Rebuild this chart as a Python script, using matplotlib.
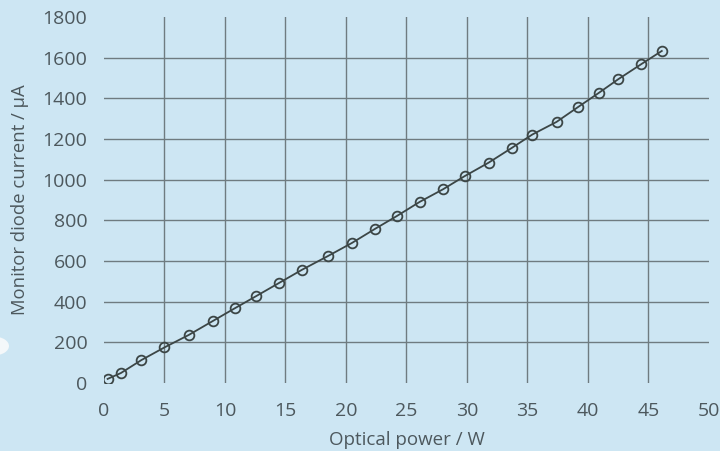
import matplotlib
matplotlib.use("Agg")
import matplotlib.pyplot as plt
from matplotlib.patches import Circle

plt.rcParams['font.family'] = ['Open Sans', 'DejaVu Sans']

optical_power = [0.3, 1.4, 3.1, 5.0, 7.0, 9.0, 10.8, 12.6, 14.5, 16.4, 18.5, 20.5,
                 22.4, 24.2, 26.1, 28.0, 29.8, 31.8, 33.7, 35.4, 37.4, 39.2, 40.9,
                 42.5, 44.4, 46.1]
diode_current = [20, 49, 113, 175, 236, 305, 367, 428, 493, 558, 624, 689,
                 758, 821, 891, 952, 1017, 1084, 1156, 1222, 1284, 1358, 1427,
                 1494, 1568, 1633]
x_ticks = [0, 5, 10, 15, 20, 25, 30, 35, 40, 45, 50]
y_ticks = [0, 200, 400, 600, 800, 1000, 1200, 1400, 1600, 1800]

bg = '#cde6f3'
text_col = '#4d585d'
grid_col = '#6f7b80'
line_col = '#3c4646'

fig = plt.figure(figsize=(7.2, 4.51), dpi=100, facecolor=bg)
ax = fig.add_axes([0.1444, 0.1508, 0.8403, 0.8115])
ax.set_facecolor(bg)

for xv in x_ticks[1:-1]:
    ax.axvline(xv, color=grid_col, lw=1.0, zorder=1)
for yv in y_ticks[1:-1]:
    ax.axhline(yv, color=grid_col, lw=1.0, zorder=1)

ax.plot(optical_power, diode_current, color=line_col, lw=1.3, marker='o',
        markersize=7, markerfacecolor='none', markeredgecolor=line_col,
        markeredgewidth=1.3, zorder=3)

ax.set_xlim(0, 50)
ax.set_ylim(0, 1800)
ax.set_xticks(x_ticks)
ax.set_yticks(y_ticks)
ax.tick_params(axis='both', length=0, labelsize=14, colors=text_col)
ax.tick_params(axis='y', pad=12)
ax.tick_params(axis='x', pad=14)
for s in ax.spines.values():
    s.set_visible(False)

ax.set_xlabel('Optical power / W', fontsize=13.5, color=text_col)
ax.set_ylabel('Monitor diode current / μA', fontsize=13.3, color=text_col)
ax.xaxis.set_label_coords(0.5, -0.13)
ax.yaxis.set_label_coords(-0.124, 0.5)

fig.patches.append(Circle((-6 / 720, 1 - 346 / 451), 15 / 720, transform=fig.transFigure,
                          facecolor='#f4f8fa', edgecolor='none'))

fig.savefig('out.png', dpi=100, facecolor=bg)
